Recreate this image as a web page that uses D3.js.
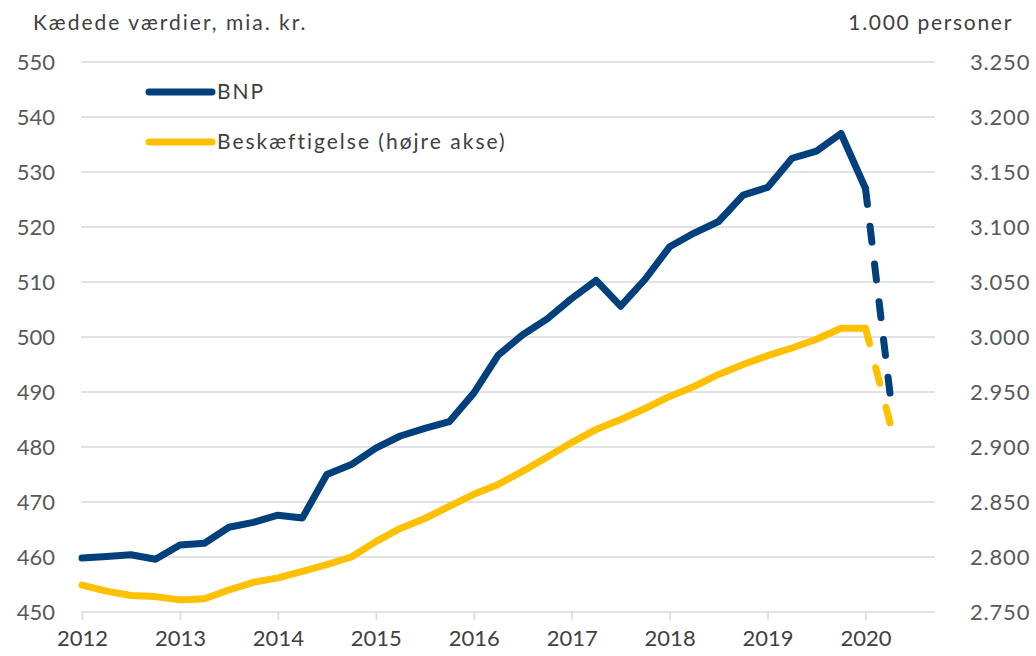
<!DOCTYPE html>
<html>
<head>
<meta charset="utf-8">
<script src="https://cdn.jsdelivr.net/npm/d3@7"></script>
<style>
  body { margin: 0; background: #fff; }
  text { font-family: Lato, "Open Sans", sans-serif; fill: #404040; }
</style>
</head>
<body>
<div id="chart"></div>
<script>
// kvartaler 2012K1 - 2020K2
const quarters = ["2012K1","2012K2","2012K3","2012K4","2013K1","2013K2","2013K3","2013K4",
  "2014K1","2014K2","2014K3","2014K4","2015K1","2015K2","2015K3","2015K4",
  "2016K1","2016K2","2016K3","2016K4","2017K1","2017K2","2017K3","2017K4",
  "2018K1","2018K2","2018K3","2018K4","2019K1","2019K2","2019K3","2019K4",
  "2020K1","2020K2"]

// BNP, kaedede vaerdier, mia. kr.
const bnp = [459.8, 460.1, 460.4, 459.6, 462.2, 462.5, 465.4, 466.3,
  467.6, 467.1, 475.0, 476.8, 479.8, 482.0, 483.4, 484.6,
  489.8, 496.7, 500.4, 503.3, 507.0, 510.3, 505.6, 510.5,
  516.4, 518.9, 521.0, 525.8, 527.2, 532.5, 533.8, 537.0,
  527.0, 489.8]

// Beskaeftigelse, 1.000 personer
const besk = [2774.5, 2769, 2765, 2764, 2761, 2762, 2770, 2777,
  2781, 2787, 2793, 2800, 2814, 2826, 2835, 2846,
  2857, 2866, 2878, 2891, 2904, 2916, 2925, 2935,
  2946, 2955, 2966, 2975, 2983, 2990, 2998, 3008,
  3008, 2922]

const years = [2012, 2013, 2014, 2015, 2016, 2017, 2018, 2019, 2020]
const leftTicks = [450, 460, 470, 480, 490, 500, 510, 520, 530, 540, 550]
const rightTicks = [2750, 2800, 2850, 2900, 2950, 3000, 3050, 3100, 3150, 3200, 3250]

const seriesInfo = [
  {name: "BNP", values: bnp, axis: "left", color: "#00407c"},
  {name: "Beskæftigelse (højre akse)", values: besk, axis: "right", color: "#ffc000"}
]

/*************** Layout *********************/
const width = 1036, height = 656
const plot = {left: 82, right: 936, top: 62, bottom: 612}

const svg = d3.select("#chart").append("svg")
  .attr("width", width)
  .attr("height", height)

// quarter label -> decimal year
const toYear = q => +q.slice(0, 4) + (+q.slice(5) - 1) / 4

const x = d3.scaleLinear().domain([2012, 2020.72]).range([plot.left, plot.right])
const yLeft = d3.scaleLinear().domain([450, 550]).range([plot.bottom, plot.top])
const yRight = d3.scaleLinear().domain([2750, 3250]).range([plot.bottom, plot.top])

// gridlines
svg.append("g")
  .selectAll("line")
  .data(leftTicks)
  .join("line")
    .attr("x1", plot.left - 1)
    .attr("x2", plot.right - 1)
    .attr("y1", d => yLeft(d))
    .attr("y2", d => yLeft(d))
    .attr("stroke", "#d9d9d9")
    .attr("stroke-width", 1.6)

// left axis
const leftAxis = svg.append("g")
  .attr("transform", `translate(${plot.left - 27},0)`)
  .call(d3.axisLeft(yLeft).tickValues(leftTicks).tickSize(0).tickPadding(0))
leftAxis.select(".domain").remove()
leftAxis.selectAll("text")
  .style("font-size", "22px")
  .style("fill", "#595959")
  .attr("font-family", null)

// right axis
const rightAxis = svg.append("g")
  .attr("transform", `translate(${plot.right + 34},0)`)
  .call(d3.axisRight(yRight).tickValues(rightTicks).tickSize(0).tickPadding(0)
    .tickFormat(d => d3.format(",")(d).replace(",", ".")))
rightAxis.select(".domain").remove()
rightAxis.selectAll("text")
  .style("font-size", "22px")
  .style("letter-spacing", "0.8px")
  .style("fill", "#595959")
  .attr("font-family", null)

// x axis ticks and labels
const xAxis = svg.append("g")
  .attr("transform", `translate(0,${plot.bottom})`)
  .call(d3.axisBottom(x).tickValues(years).tickFormat(d3.format("d")).tickSize(8).tickPadding(10))
xAxis.select(".domain").remove()
xAxis.selectAll(".tick line")
  .attr("stroke", "#d9d9d9")
  .attr("stroke-width", 1.6)
xAxis.selectAll("text")
  .style("font-size", "22px")
  .style("fill", "#404040")
  .attr("font-family", null)

// axis titles
svg.append("text")
  .attr("x", 33)
  .attr("y", 30)
  .style("font-size", "21px")
  .style("letter-spacing", "2px")
  .text("Kædede værdier, mia. kr.")
svg.append("text")
  .attr("x", 1013)
  .attr("y", 30)
  .attr("text-anchor", "end")
  .style("font-size", "21px")
  .style("letter-spacing", "1.7px")
  .text("1.000 personer")

/*************** Lines *********************/
const lastSolid = quarters.indexOf("2020K1")
const DASH = 16

seriesInfo.forEach(s => {
  const yScale = s.axis == "left" ? yLeft : yRight
  const pts = quarters.map((q, i) => ({t: toYear(q), v: s.values[i]}))
  const line = d3.line()
    .x(d => x(d.t))
    .y(d => yScale(d.v))

  svg.append("path")
    .datum(pts.slice(0, lastSolid + 1))
    .attr("d", line)
    .attr("fill", "none")
    .attr("stroke", s.color)
    .attr("stroke-width", 7)
    .attr("stroke-linejoin", "round")
    .attr("stroke-linecap", "round")

  // forecast part dashed, pattern stretched so the last dash ends on the last point
  const dashed = svg.append("path")
    .datum(pts.slice(lastSolid))
    .attr("d", line)
    .attr("fill", "none")
    .attr("stroke", s.color)
    .attr("stroke-width", 7)
    .attr("stroke-linecap", "round")
  const len = dashed.node().getTotalLength()
  const n = Math.max(1, Math.round((len - DASH) / 37))
  const period = (len - DASH) / n
  dashed.attr("stroke-dasharray", `${DASH} ${period - DASH}`)
})

/*************** Legend *********************/
const legend = svg.append("g")
  .selectAll("g")
  .data(seriesInfo)
  .join("g")
    .attr("transform", (d, i) => `translate(149,${92 + i * 50})`)

legend.append("line")
  .attr("x1", 0)
  .attr("x2", 63)
  .attr("stroke", d => d.color)
  .attr("stroke-width", 7)
  .attr("stroke-linecap", "round")

legend.append("text")
  .attr("x", 68)
  .attr("dy", "0.35em")
  .style("font-size", "21px")
  .style("letter-spacing", "2px")
  .text(d => d.name)
</script>
</body>
</html>
